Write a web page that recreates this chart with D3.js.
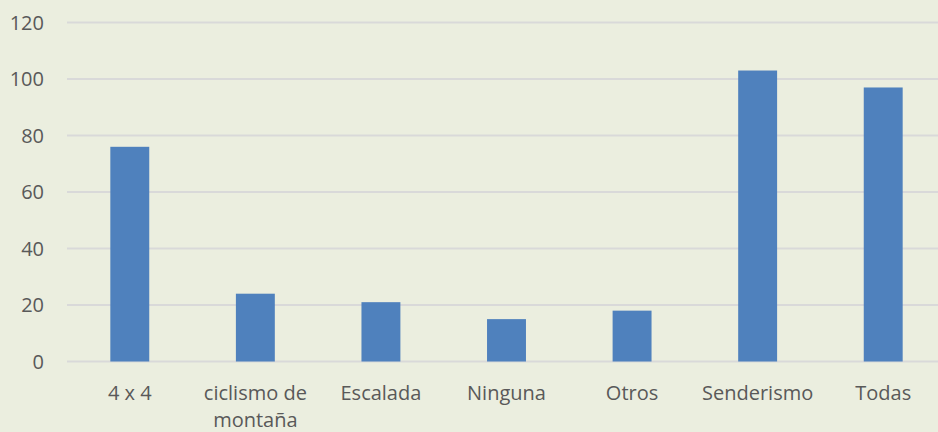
<!DOCTYPE html>
<html>
<head>
<meta charset="utf-8">
<script src="https://cdn.jsdelivr.net/npm/d3@7"></script>
<style>
  body { margin: 0; background: #ebeedf; }
  svg { display: block; }
  text { font-family: "Open Sans", Lato, sans-serif; fill: #595959; }
</style>
</head>
<body>
<div id="vis"></div>
<script>
// Data
const categories = ['4 x 4', 'ciclismo de montaña', 'Escalada', 'Ninguna', 'Otros', 'Senderismo', 'Todas'];
const values = [76, 24, 21, 15, 18, 103, 97];
const yTicks = [0, 20, 40, 60, 80, 100, 120];

const W = 938, H = 432;
const margin = { top: 22.5, right: -8, bottom: 70.5, left: 67 };

const svg = d3.select('#vis')
    .append('svg')
    .attr('width', W)
    .attr('height', H);

svg.append('rect')
    .attr('width', W)
    .attr('height', H)
    .attr('fill', '#ebeedf');

const xScale = d3.scaleBand()
    .domain(categories)
    .range([margin.left, W - margin.right])
    .paddingInner(0.69)
    .paddingOuter(0.345);

const yScale = d3.scaleLinear()
    .domain([0, 120])
    .range([H - margin.bottom, margin.top]);

// gridlines
svg.append('g')
    .selectAll('line')
    .data(yTicks)
    .join('line')
    .attr('x1', margin.left)
    .attr('x2', W - margin.right)
    .attr('y1', d => yScale(d))
    .attr('y2', d => yScale(d))
    .attr('stroke', '#d9d9d9')
    .attr('stroke-width', 2);

// y labels
svg.append('g')
    .selectAll('text')
    .data(yTicks)
    .join('text')
    .attr('x', 44)
    .attr('y', d => yScale(d))
    .attr('dy', '0.35em')
    .attr('text-anchor', 'end')
    .style('font-size', '20px')
    .text(d => d);

// bars
svg.append('g')
    .selectAll('rect')
    .data(values)
    .join('rect')
    .attr('x', (d, i) => xScale(categories[i]))
    .attr('y', d => yScale(d))
    .attr('width', xScale.bandwidth())
    .attr('height', d => yScale(0) - yScale(d))
    .attr('fill', '#4f81bd');

// x labels (wrap the long one)
const xLabels = svg.append('g')
    .selectAll('text')
    .data(categories)
    .join('text')
    .attr('x', d => xScale(d) + xScale.bandwidth() / 2)
    .attr('y', yScale(0) + 38)
    .attr('text-anchor', 'middle')
    .style('font-size', '20px');

xLabels.each(function (d) {
    const lines = d === 'ciclismo de montaña' ? ['ciclismo de', 'montaña'] : [d];
    const el = d3.select(this);
    lines.forEach((line, i) => {
        el.append('tspan')
            .attr('x', xScale(d) + xScale.bandwidth() / 2)
            .attr('dy', i === 0 ? 0 : 27)
            .text(line);
    });
});
</script>
</body>
</html>
